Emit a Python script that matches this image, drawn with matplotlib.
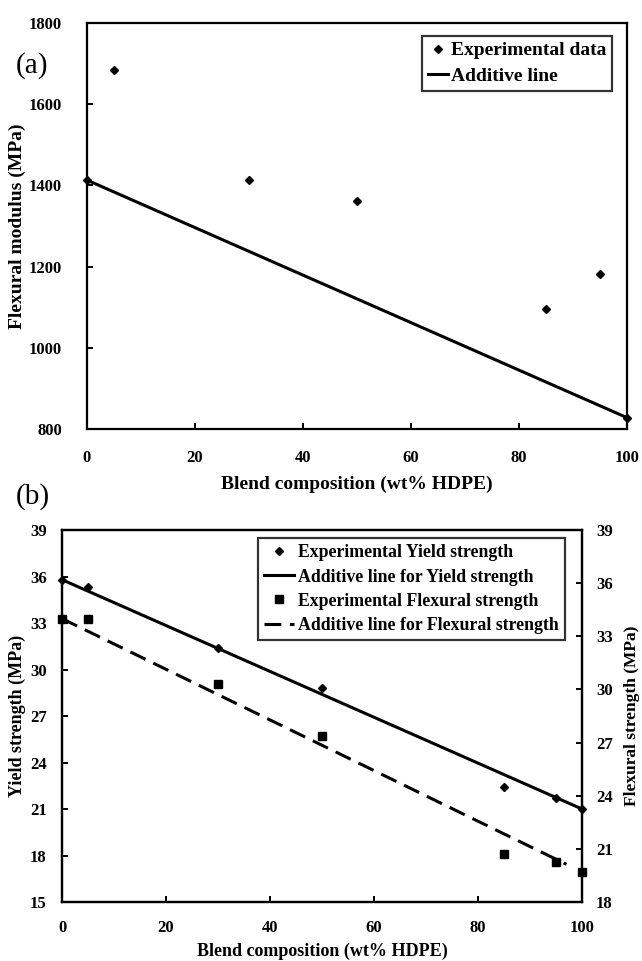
import matplotlib.pyplot as plt

plt.rcParams['font.family'] = ['Liberation Serif', 'DejaVu Serif']
plt.rcParams['font.weight'] = 'bold'
plt.rcParams['axes.labelweight'] = 'bold'

# blend composition (wt% HDPE)
comp = [0, 5, 30, 50, 85, 95, 100]

# (a) flexural modulus (MPa)
modulus = [1413, 1683, 1413, 1362, 1096, 1181, 828]
modulus_pure = [1413, 828]

# (b) yield strength (left axis) and flexural strength (right axis), MPa
yield_str = [35.8, 35.3, 31.4, 28.8, 22.4, 21.7, 21.0]
yield_pure = [35.8, 21.0]
flex_str = [34.0, 34.0, 30.3, 27.4, 20.7, 20.25, 19.7]
flex_pure = [34.0, 19.7]


def additive(ends, xs):
    # linear rule of mixtures between the two pure components
    return [ends[0] + (ends[1] - ends[0]) * c / 100 for c in xs]


def style_axis(ax, size=12):
    for s in ax.spines.values():
        s.set_linewidth(1.6)
    ax.tick_params(direction='in', length=4, width=1.4, labelsize=size)
    for lab in ax.get_xticklabels() + ax.get_yticklabels():
        lab.set_fontweight('bold')


fig = plt.figure(figsize=(6.42, 9.61), dpi=100)

# ---- (a) ----
ax1 = fig.add_axes([0.1355, 0.5536, 0.841, 0.4225])
ax1.plot(comp, modulus, 'D', color='black', ms=4.5, clip_on=False,
         label='Experimental data')
ax1.plot(comp, additive(modulus_pure, comp), '-', color='black', lw=2.2,
         label='Additive line')
ax1.set_xlim(0, 100)
ax1.set_ylim(800, 1800)
ax1.set_xticks(range(0, 101, 20))
ax1.set_yticks(range(800, 1801, 200))
style_axis(ax1)
ax1.tick_params(axis='x', pad=15)
ax1.tick_params(axis='y', pad=18)
ax1.set_xlabel('Blend composition (wt% HDPE)', fontsize=14, labelpad=7)
ax1.set_ylabel('Flexural modulus (MPa)', fontsize=14, labelpad=2)
leg1 = ax1.legend(loc='upper right', bbox_to_anchor=(0.972, 0.968),
                  fancybox=False, edgecolor='black', fontsize=14,
                  handlelength=1.0, handletextpad=0.15, borderpad=0.3,
                  labelspacing=0.4, borderaxespad=0)
leg1.get_frame().set_linewidth(1.6)
fig.text(0.025, 0.932, '(a)', fontsize=21, fontweight='normal', va='center')

# ---- (b) ----
ax2 = fig.add_axes([0.0966, 0.0614, 0.81, 0.387])
ax3 = ax2.twinx()
h1, = ax2.plot(comp, yield_str, 'D', color='black', ms=4, clip_on=False,
               label='Experimental Yield strength')
h2, = ax2.plot(comp, additive(yield_pure, comp), '-', color='black', lw=2.2,
               label='Additive line for Yield strength')
h3, = ax3.plot(comp, flex_str, 's', color='black', ms=6, clip_on=False,
               label='Experimental Flexural strength')
dash_x = comp[:-1] + [97]
h4, = ax3.plot(dash_x, additive(flex_pure, dash_x), color='black', lw=2.2,
               linestyle=(0, (5.5, 2.8)),
               label='Additive line for Flexural strength')
ax2.set_xlim(0, 100)
ax2.set_ylim(15, 39)
ax3.set_ylim(18, 39)
ax2.set_xticks(range(0, 101, 20))
ax2.set_yticks(range(15, 40, 3))
ax3.set_yticks(range(18, 40, 3))
style_axis(ax2)
style_axis(ax3)
ax2.tick_params(axis='x', pad=13)
ax2.tick_params(axis='y', pad=11)
ax3.tick_params(axis='y', pad=10)
ax2.set_xlabel('Blend composition (wt% HDPE)', fontsize=13, labelpad=5)
ax2.set_ylabel('Yield strength (MPa)', fontsize=13, labelpad=3)
ax3.set_ylabel('Flexural strength (MPa)', fontsize=12.5, labelpad=8)
leg2 = ax2.legend(handles=[h1, h2, h3, h4], loc='upper right',
                  bbox_to_anchor=(0.967, 0.978), fancybox=False,
                  edgecolor='black', fontsize=12.8, handlelength=1.7,
                  handletextpad=0.2, borderpad=0.35, labelspacing=0.4,
                  borderaxespad=0)
leg2.get_frame().set_linewidth(1.6)
fig.text(0.025, 0.483, '(b)', fontsize=21, fontweight='normal', va='center')

fig.savefig('out.png', dpi=100)
